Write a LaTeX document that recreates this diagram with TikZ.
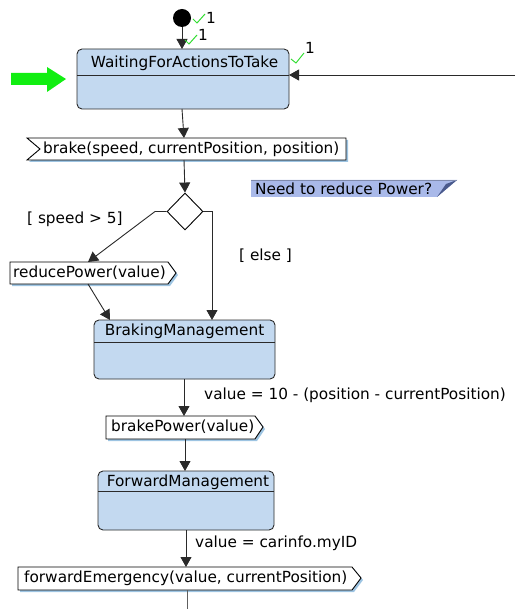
\documentclass[tikz,border=0pt]{standalone}
\usepackage{fontspec}
\setmainfont{DejaVu Sans}
\usetikzlibrary{arrows.meta,shapes.geometric}
\definecolor{statefill}{HTML}{C3D9F0}
\definecolor{edge}{HTML}{2A2A2A}
\definecolor{shadowblue}{HTML}{9DC4E2}
\definecolor{notefill}{HTML}{A9B9E9}
\definecolor{notedark}{HTML}{4A5A8C}
\definecolor{tick}{HTML}{33DD33}
\definecolor{pointer}{HTML}{11EE11}
\tikzset{
  lbl/.style={font=\fontsize{15.3}{17}\selectfont, inner sep=0pt, text=black},
  statebox/.style={draw=edge, line width=0.9pt, fill=statefill, rounded corners=5pt,
    inner sep=0pt, minimum width=#1},
  flow/.style={draw=edge, line width=0.9pt, -{Triangle[length=10pt,width=11pt]}},
  sigline/.style={draw=black, line width=0.9pt, fill=white},
  sigshadow/.style={fill=shadowblue, draw=none},
  checkmark/.style={draw=tick, line width=1pt},
  tickno/.style={font=\fontsize{15.3}{17}\selectfont, inner sep=0pt, text=black},
}
\begin{document}
\begin{tikzpicture}[x=1pt,y=-1pt]
\useasboundingbox (0,0) rectangle (515,609);

% initial pseudostate
\fill (182,18) circle (9pt);
\node[circle, minimum size=18pt, inner sep=0pt] (init) at (182,18) {};

% states
\node[statebox=212pt, minimum height=60pt] (wait) at (183,79) {};
\draw[edge, line width=0.9pt] (77,75) -- (289,75);
\node[lbl] (waitT) at (184.5,63) {WaitingForActionsToTake};

\node[statebox=181pt, minimum height=59pt] (bm) at (184.5,349.5) {};
\draw[edge, line width=0.9pt] (94,342) -- (275,342);
\node[lbl] (bmT) at (184.5,331) {BrakingManagement};

\node[statebox=176pt, minimum height=59pt] (fm) at (186,500.5) {};
\draw[edge, line width=0.9pt] (98,491) -- (274,491);
\node[lbl] (fmT) at (188,482) {ForwardManagement};

% decision
\node[diamond, draw=black, line width=0.9pt, fill=white, inner sep=0pt,
  minimum width=36pt, minimum height=37pt] (dec) at (185,211.5) {};

% receive signal: brake(...)
\fill[sigshadow] (29,140) -- (348,140) -- (348,162) -- (29,162) -- (42,151) -- cycle;
\draw[sigline] (27,138) -- (346,138) -- (346,160) -- (27,160) -- (40,149) -- cycle;
\node[lbl, anchor=west] (brake) at (43,149) {brake(speed, currentPosition, position)};
\coordinate (brakeN) at (184,138);
\coordinate (brakeS) at (184,160);

% send signals
\fill[sigshadow] (12,264) -- (170,264) -- (178,275) -- (170,286) -- (12,286) -- cycle;
\draw[sigline] (10,262) -- (168,262) -- (176,273) -- (168,284) -- (10,284) -- cycle;
\node[lbl, anchor=west] (rp) at (13,273) {reducePower(value)};
\coordinate (rpN) at (88,262);
\coordinate (rpS) at (88,284);

\fill[sigshadow] (108,418) -- (257,418) -- (265,429) -- (257,441) -- (108,441) -- cycle;
\draw[sigline] (106,416) -- (255,416) -- (263,427) -- (255,439) -- (106,439) -- cycle;
\node[lbl, anchor=west] (bp) at (111,427) {brakePower(value)};
\coordinate (bpN) at (184,416);
\coordinate (bpS) at (185,439);

\fill[sigshadow] (20,569) -- (354,569) -- (363,580) -- (354,592) -- (20,592) -- cycle;
\draw[sigline] (18,567) -- (352,567) -- (361,578) -- (352,590) -- (18,590) -- cycle;
\node[lbl, anchor=west] (fe) at (24,578) {forwardEmergency(value, currentPosition)};
\coordinate (feN) at (186,567);
\coordinate (feS) at (187,590);

% note
\fill[notefill] (251,180) -- (457,180) -- (437,197) -- (251,197) -- cycle;
\fill[notedark] (457,180) -- (446,184) -- (437,197) -- cycle;
\draw[notedark!70, line width=0.6pt] (251,180) -- (457,180);
\node[lbl, anchor=west] (note) at (255,188.5) {Need to reduce Power?};

% entry pointer
\fill[pointer] (11,73) -- (47,73) -- (47,67) -- (66,79) -- (47,92) -- (47,85) -- (11,85) -- cycle;

% transitions
\coordinate (rin) at (515,75);
\coordinate (lbend) at (155,211.5);
\coordinate (rbend) at (212,211.5);
\draw[flow] (init.south) -- (182,49);
\draw[flow] (rin) -- (289,75);
\draw[flow] (182,109) -- (brakeN);
\draw[flow] (brakeS) -- (dec.north);
\draw[flow] (dec.west) -- (lbend) -- (rpN);
\draw[flow] (dec.east) -- (rbend) -- (212,320);
\draw[flow] (rpS) -- (110,320);
\draw[flow] (184,379) -- (bpN);
\draw[flow] (bpS) -- (185,471);
\draw[flow] (186,530) -- (feN);
\draw[draw=edge!75, line width=0.9pt] (feS) -- (187,609);

% guards and effects
\node[lbl, anchor=west] (g1) at (27,219) {[ speed > 5]};
\node[lbl, anchor=west] (g2) at (239,256) {[ else ]};
\node[lbl, anchor=west] (e1) at (204,395) {value = 10 - (position - currentPosition)};
\node[lbl, anchor=west] (e2) at (195,543) {value = carinfo.myID};

% multiplicity ticks
\draw[checkmark] (193,19) -- (197,23) -- (205,14);
\node[tickno, anchor=west] (t1) at (206,18) {1};
\draw[checkmark] (185,40) -- (189,44) -- (197,35);
\node[tickno, anchor=west] (t2) at (198,35) {1};
\draw[checkmark] (291,59) -- (296,63) -- (304,53);
\node[tickno, anchor=west] (t3) at (305,48) {1};
\end{tikzpicture}
\end{document}
